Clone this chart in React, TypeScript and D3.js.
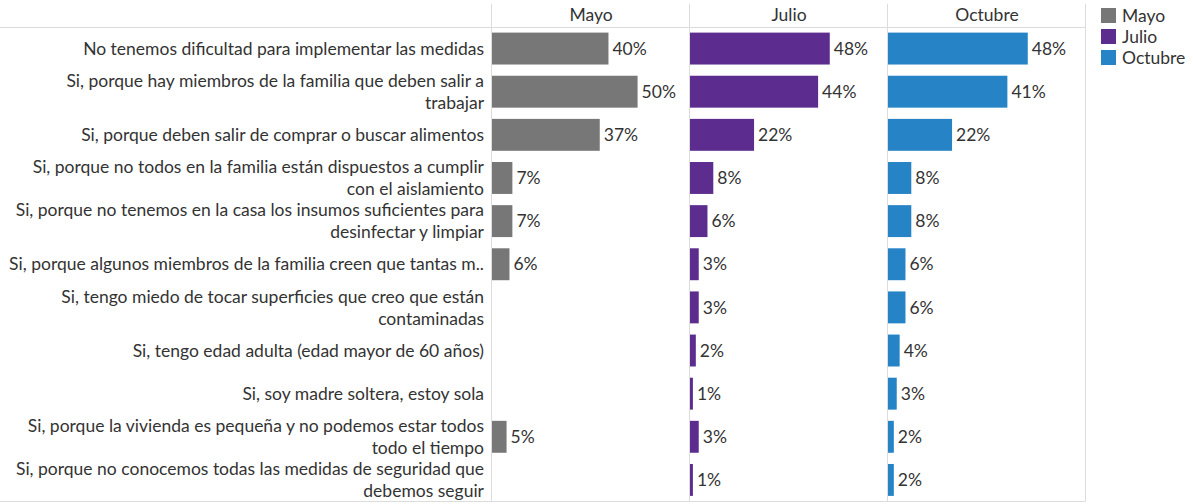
import React, { useRef, useEffect } from 'react';
import * as d3 from 'd3';

const categories: string[] = [
  'No tenemos dificultad para implementar las medidas',
  'Si, porque hay miembros de la familia que deben salir a\ntrabajar',
  'Si, porque deben salir de comprar o buscar alimentos',
  'Si, porque no todos en la familia están dispuestos a cumplir\ncon el aislamiento',
  'Si, porque no tenemos en la casa los insumos suficientes para\ndesinfectar y limpiar',
  'Si, porque algunos miembros de la familia creen que tantas m..',
  'Si, tengo miedo de tocar superficies que creo que están\ncontaminadas',
  'Si, tengo edad adulta (edad mayor de 60 años)',
  'Si, soy madre soltera, estoy sola',
  'Si, porque la vivienda es pequeña y no podemos estar todos\ntodo el tiempo',
  'Si, porque no conocemos todas las medidas de seguridad que\ndebemos seguir',
];

const periods: string[] = ['Mayo', 'Julio', 'Octubre'];
const mayo: (number | null)[] = [40, 50, 37, 7, 7, 6, null, null, null, 5, null];
const julio: (number | null)[] = [48, 44, 22, 8, 6, 3, 3, 2, 1, 3, 1];
const octubre: (number | null)[] = [48, 41, 22, 8, 8, 6, 6, 4, 3, 2, 2];
const colors: string[] = ['#777777', '#5c2d8e', '#2683c6'];

const W = 1193;
const H = 504;

const App = () => {
  const svgRef = useRef<SVGSVGElement>(null);

  useEffect(() => {
    if (!svgRef.current) return;
    const svg = d3.select(svgRef.current);
    svg.selectAll('*').remove();

    const font = 'Lato, "Noto Sans", sans-serif';
    const fs = 17.5;
    const textColor = '#333';
    const gridColor = '#dcdcdc';
    const series = [mayo, julio, octubre];

    const top = 27;
    const bottom = 501.5;
    const panelLeft = 491;
    const panelW = 198;
    const labelRight = 484;

    const y = d3.scaleBand<number>()
      .domain(d3.range(categories.length))
      .range([top, bottom])
      .paddingInner(0.26)
      .paddingOuter(0.13);
    const x = d3.scaleLinear().domain([0, 68]).range([0, panelW]);

    // grid lines
    svg.append('line')
      .attr('x1', 0).attr('x2', panelLeft + panelW * 3)
      .attr('y1', top + 0.5).attr('y2', top + 0.5)
      .attr('stroke', gridColor);
    svg.append('line')
      .attr('x1', 0).attr('x2', panelLeft + panelW * 3)
      .attr('y1', bottom).attr('y2', bottom)
      .attr('stroke', gridColor);
    d3.range(4).forEach(i => {
      const xx = Math.round(panelLeft + i * panelW) + 0.5;
      svg.append('line')
        .attr('x1', xx).attr('x2', xx)
        .attr('y1', 4).attr('y2', bottom)
        .attr('stroke', gridColor);
    });

    // category labels
    categories.forEach((c, i) => {
      const lines = c.split('\n');
      const cy = (y(i) as number) + y.bandwidth() / 2;
      const lh = 22;
      const t = svg.append('text')
        .attr('text-anchor', 'end')
        .attr('font-family', font)
        .attr('font-size', fs)
        .attr('fill', textColor);
      lines.forEach((l, k) => {
        t.append('tspan')
          .attr('x', labelRight)
          .attr('y', cy + (k - (lines.length - 1) / 2) * lh)
          .attr('dy', '0.35em')
          .text(l);
      });
    });

    // panels
    periods.forEach((p, pi) => {
      const g = svg.append('g').attr('transform', `translate(${panelLeft + pi * panelW + 1},0)`);
      g.append('text')
        .attr('x', panelW / 2).attr('y', 15)
        .attr('dy', '0.35em')
        .attr('text-anchor', 'middle')
        .attr('font-family', font)
        .attr('font-size', fs)
        .attr('fill', textColor)
        .text(p);

      const vals = series[pi];
      const rows = vals.map((v, i) => ({ v, i })).filter(d => d.v !== null) as { v: number; i: number }[];

      g.selectAll('rect.bar')
        .data(rows)
        .enter()
        .append('rect')
        .attr('class', 'bar')
        .attr('x', 0)
        .attr('y', d => y(d.i) as number)
        .attr('width', d => x(d.v))
        .attr('height', y.bandwidth())
        .attr('fill', colors[pi]);

      g.selectAll('text.val')
        .data(rows)
        .enter()
        .append('text')
        .attr('class', 'val')
        .attr('x', d => x(d.v) + 4)
        .attr('y', d => (y(d.i) as number) + y.bandwidth() / 2)
        .attr('dy', '0.35em')
        .attr('font-family', font)
        .attr('font-size', fs)
        .attr('fill', textColor)
        .text(d => `${d.v}%`);
    });

    // legend
    const lg = svg.append('g').attr('transform', 'translate(1101,8)');
    periods.forEach((p, i) => {
      lg.append('rect')
        .attr('x', 0).attr('y', i * 21)
        .attr('width', 15).attr('height', 15)
        .attr('fill', colors[i]);
      lg.append('text')
        .attr('x', 21).attr('y', i * 21 + 7.5)
        .attr('dy', '0.35em')
        .attr('font-family', font)
        .attr('font-size', fs)
        .attr('fill', textColor)
        .text(p);
    });
  }, []);

  return (
    <svg ref={svgRef} width={W} height={H} style={{ position: 'absolute', left: 0, top: 0, background: '#fff' }} />
  );
};

export default App;
